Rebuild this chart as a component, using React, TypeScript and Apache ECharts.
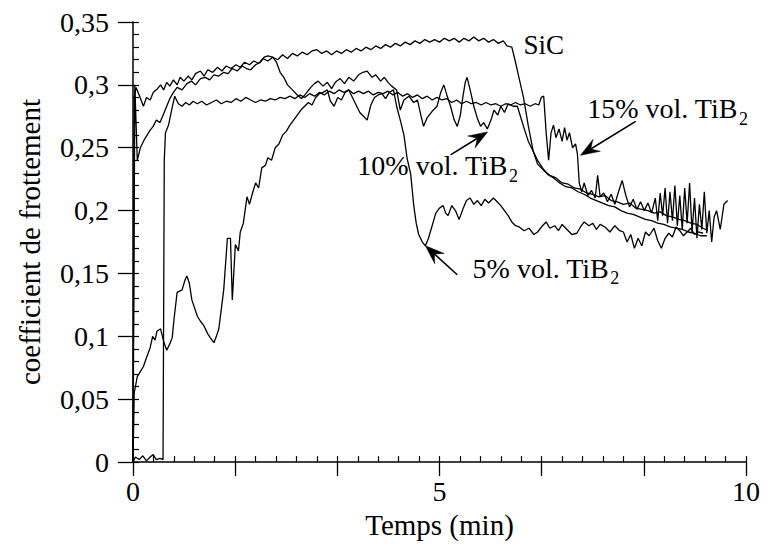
import React, { useEffect, useRef } from "react";
import * as echarts from "echarts";

// ---- data: time (min), friction coefficient ----
const sicCurve: number[][] = [
  [0, 0], [0.02, 0.29], [0.05, 0.298], [0.1, 0.292], [0.17, 0.283], [0.22, 0.29], [0.28, 0.288], [0.33, 0.294],
  [0.4, 0.297], [0.45, 0.3], [0.5, 0.296], [0.55, 0.302], [0.6, 0.299], [0.66, 0.304], [0.72, 0.3], [0.77, 0.306],
  [0.83, 0.303], [0.9, 0.307], [0.96, 0.304], [1.02, 0.309], [1.1, 0.311], [1.16, 0.307], [1.22, 0.312], [1.3, 0.31],
  [1.38, 0.314], [1.45, 0.311], [1.52, 0.315], [1.6, 0.313], [1.68, 0.316], [1.75, 0.314], [1.82, 0.318], [1.9, 0.316],
  [1.97, 0.319], [2.05, 0.317], [2.12, 0.321], [2.2, 0.319], [2.28, 0.322], [2.36, 0.32], [2.44, 0.324], [2.52, 0.321],
  [2.6, 0.325], [2.68, 0.323], [2.76, 0.326], [2.84, 0.324], [2.92, 0.327], [3.0, 0.328], [3.08, 0.325], [3.16, 0.327],
  [3.24, 0.324], [3.32, 0.327], [3.4, 0.325], [3.48, 0.328], [3.56, 0.326], [3.64, 0.329], [3.72, 0.327], [3.8, 0.33],
  [3.88, 0.328], [3.96, 0.331], [4.04, 0.329], [4.12, 0.332], [4.2, 0.33], [4.28, 0.333], [4.36, 0.331], [4.44, 0.334],
  [4.52, 0.332], [4.6, 0.335], [4.68, 0.333], [4.76, 0.336], [4.84, 0.334], [4.92, 0.336], [5.0, 0.334], [5.08, 0.337],
  [5.16, 0.335], [5.24, 0.337], [5.32, 0.334], [5.4, 0.337], [5.48, 0.335], [5.56, 0.338], [5.64, 0.335], [5.72, 0.337],
  [5.8, 0.334], [5.88, 0.336], [5.96, 0.333], [6.04, 0.335], [6.1, 0.331], [6.18, 0.33], [6.24, 0.318], [6.3, 0.305],
  [6.37, 0.29], [6.45, 0.267], [6.53, 0.247], [6.6, 0.237], [6.7, 0.232], [6.8, 0.228], [6.9, 0.226], [7.0, 0.222],
  [7.1, 0.221], [7.2, 0.218], [7.3, 0.217], [7.4, 0.214], [7.5, 0.213], [7.6, 0.211], [7.7, 0.212], [7.8, 0.208],
  [7.9, 0.207], [8.0, 0.205], [8.1, 0.206], [8.2, 0.202], [8.3, 0.201], [8.4, 0.2], [8.5, 0.198], [8.6, 0.199],
  [8.7, 0.196], [8.8, 0.195], [8.9, 0.193], [9.0, 0.192], [9.1, 0.19], [9.2, 0.189], [9.3, 0.186], [9.38, 0.184],
];

const tib10Curve: number[][] = [
  [0, 0], [0.03, 0.3], [0.07, 0.24], [0.12, 0.25], [0.18, 0.256], [0.23, 0.26], [0.28, 0.264], [0.33, 0.267],
  [0.38, 0.272], [0.44, 0.27], [0.5, 0.277], [0.55, 0.283], [0.6, 0.289], [0.66, 0.294], [0.72, 0.298], [0.8, 0.296],
  [0.88, 0.301], [0.95, 0.303], [1.02, 0.3], [1.1, 0.305], [1.18, 0.306], [1.25, 0.304], [1.32, 0.308], [1.4, 0.307],
  [1.48, 0.31], [1.55, 0.309], [1.62, 0.313], [1.7, 0.311], [1.78, 0.315], [1.85, 0.313], [1.92, 0.312], [2.0, 0.316],
  [2.08, 0.318], [2.14, 0.322], [2.2, 0.323], [2.28, 0.322], [2.34, 0.318], [2.4, 0.31], [2.46, 0.306], [2.52, 0.3],
  [2.6, 0.296], [2.68, 0.292], [2.75, 0.289], [2.82, 0.293], [2.9, 0.298], [2.96, 0.301], [3.02, 0.303], [3.1, 0.299],
  [3.17, 0.302], [3.24, 0.297], [3.3, 0.302], [3.38, 0.305], [3.45, 0.301], [3.52, 0.306], [3.6, 0.303], [3.68, 0.308],
  [3.75, 0.31], [3.82, 0.311], [3.9, 0.306], [3.96, 0.308], [4.04, 0.303], [4.1, 0.306], [4.16, 0.302], [4.22, 0.299],
  [4.3, 0.296], [4.36, 0.28], [4.42, 0.288], [4.5, 0.291], [4.58, 0.286], [4.64, 0.288], [4.7, 0.275], [4.74, 0.267],
  [4.8, 0.274], [4.88, 0.279], [4.96, 0.283], [5.02, 0.294], [5.07, 0.3], [5.12, 0.292], [5.18, 0.283], [5.24, 0.272],
  [5.29, 0.267], [5.34, 0.276], [5.38, 0.29], [5.42, 0.302], [5.45, 0.306], [5.5, 0.296], [5.56, 0.283], [5.62, 0.273],
  [5.67, 0.267], [5.72, 0.27], [5.78, 0.265], [5.84, 0.272], [5.89, 0.28], [5.95, 0.276], [6.0, 0.283], [6.06, 0.278],
  [6.12, 0.285], [6.2, 0.283], [6.27, 0.283], [6.32, 0.275], [6.37, 0.267], [6.45, 0.255], [6.53, 0.247], [6.6, 0.24],
  [6.68, 0.234], [6.76, 0.229], [6.86, 0.226], [6.96, 0.222], [7.06, 0.219], [7.16, 0.218], [7.26, 0.215], [7.36, 0.213],
  [7.46, 0.21], [7.56, 0.208], [7.66, 0.206], [7.76, 0.204], [7.86, 0.203], [7.96, 0.2], [8.06, 0.198], [8.16, 0.197],
  [8.26, 0.195], [8.36, 0.193], [8.46, 0.192], [8.56, 0.19], [8.66, 0.189], [8.76, 0.187], [8.86, 0.186], [8.96, 0.185],
  [9.06, 0.183], [9.16, 0.182], [9.26, 0.18], [9.36, 0.18],
];

const tib15Curve: number[][] = [
  [0, 0], [0.04, 0.004], [0.1, 0.002], [0.16, 0.005], [0.22, 0.001], [0.28, 0.004], [0.33, 0.006], [0.38, 0.002],
  [0.44, 0.003], [0.49, 0.002], [0.5, 0.12], [0.51, 0.24], [0.53, 0.262], [0.58, 0.268], [0.63, 0.28], [0.68, 0.291],
  [0.74, 0.285], [0.8, 0.283], [0.86, 0.286], [0.92, 0.284], [0.98, 0.287], [1.05, 0.285], [1.12, 0.287], [1.2, 0.284],
  [1.28, 0.286], [1.36, 0.288], [1.44, 0.285], [1.52, 0.287], [1.6, 0.286], [1.68, 0.289], [1.76, 0.287], [1.84, 0.29],
  [1.92, 0.288], [2.0, 0.286], [2.08, 0.288], [2.16, 0.287], [2.24, 0.289], [2.32, 0.288], [2.4, 0.29], [2.48, 0.289],
  [2.56, 0.291], [2.64, 0.289], [2.72, 0.292], [2.8, 0.29], [2.88, 0.293], [2.96, 0.291], [3.04, 0.294], [3.12, 0.292],
  [3.2, 0.295], [3.28, 0.293], [3.36, 0.296], [3.44, 0.294], [3.52, 0.296], [3.6, 0.293], [3.68, 0.295], [3.76, 0.293],
  [3.84, 0.295], [3.92, 0.292], [4.0, 0.294], [4.08, 0.293], [4.16, 0.295], [4.24, 0.292], [4.32, 0.294], [4.4, 0.291],
  [4.48, 0.293], [4.56, 0.29], [4.64, 0.292], [4.72, 0.289], [4.8, 0.291], [4.88, 0.288], [4.96, 0.29], [5.04, 0.288],
  [5.12, 0.289], [5.2, 0.286], [5.28, 0.288], [5.36, 0.285], [5.44, 0.287], [5.52, 0.285], [5.6, 0.286], [5.68, 0.284],
  [5.76, 0.286], [5.84, 0.284], [5.92, 0.285], [6.0, 0.283], [6.08, 0.285], [6.16, 0.284], [6.24, 0.286], [6.32, 0.284],
  [6.4, 0.285], [6.48, 0.283], [6.56, 0.285], [6.62, 0.284], [6.66, 0.29], [6.7, 0.291], [6.74, 0.262], [6.78, 0.24],
  [6.82, 0.262], [6.86, 0.268], [6.9, 0.258], [6.95, 0.265], [7.0, 0.255], [7.04, 0.266], [7.08, 0.256], [7.12, 0.262],
  [7.17, 0.25], [7.22, 0.253], [7.25, 0.245], [7.28, 0.222], [7.32, 0.215], [7.36, 0.222], [7.42, 0.212], [7.48, 0.216],
  [7.54, 0.21], [7.58, 0.228], [7.62, 0.211], [7.68, 0.214], [7.74, 0.207], [7.8, 0.213], [7.86, 0.205], [7.92, 0.215],
  [7.98, 0.224], [8.04, 0.212], [8.1, 0.203], [8.16, 0.209], [8.22, 0.201], [8.28, 0.207], [8.34, 0.2], [8.4, 0.206],
  [8.46, 0.198], [8.52, 0.21], [8.56, 0.192], [8.6, 0.214], [8.64, 0.196], [8.68, 0.218], [8.72, 0.19], [8.76, 0.215],
  [8.8, 0.192], [8.84, 0.22], [8.88, 0.188], [8.92, 0.212], [8.96, 0.185], [9.0, 0.218], [9.04, 0.19], [9.08, 0.222],
  [9.12, 0.183], [9.16, 0.21], [9.2, 0.178], [9.24, 0.205], [9.28, 0.185], [9.32, 0.215], [9.36, 0.182], [9.4, 0.2],
  [9.44, 0.175], [9.48, 0.195], [9.52, 0.2], [9.58, 0.185], [9.64, 0.205], [9.7, 0.208],
];

const tib5Curve: number[][] = [
  [0, 0], [0.02, 0.055], [0.07, 0.068], [0.12, 0.072], [0.17, 0.076], [0.22, 0.083], [0.28, 0.091], [0.32, 0.1],
  [0.36, 0.097], [0.39, 0.104], [0.45, 0.106], [0.5, 0.096], [0.55, 0.089], [0.6, 0.094], [0.64, 0.099], [0.67, 0.114],
  [0.72, 0.135], [0.8, 0.137], [0.85, 0.145], [0.88, 0.148], [0.92, 0.142], [0.96, 0.129], [1.05, 0.116], [1.1, 0.112],
  [1.15, 0.109], [1.22, 0.102], [1.26, 0.099], [1.32, 0.095], [1.36, 0.1], [1.4, 0.106], [1.48, 0.137], [1.54, 0.178],
  [1.59, 0.178], [1.62, 0.129], [1.67, 0.173], [1.72, 0.168], [1.75, 0.183], [1.8, 0.19], [1.86, 0.211], [1.9, 0.205],
  [1.95, 0.214], [2.0, 0.222], [2.05, 0.218], [2.1, 0.234], [2.16, 0.236], [2.2, 0.242], [2.26, 0.24], [2.32, 0.25],
  [2.38, 0.253], [2.44, 0.26], [2.5, 0.263], [2.56, 0.268], [2.62, 0.272], [2.68, 0.276], [2.74, 0.28], [2.8, 0.283],
  [2.86, 0.286], [2.92, 0.284], [2.98, 0.29], [3.04, 0.293], [3.1, 0.294], [3.17, 0.296], [3.22, 0.287], [3.28, 0.283],
  [3.34, 0.29], [3.4, 0.288], [3.46, 0.294], [3.52, 0.296], [3.58, 0.29], [3.64, 0.284], [3.7, 0.278], [3.76, 0.275],
  [3.82, 0.272], [3.88, 0.284], [3.94, 0.29], [4.0, 0.292], [4.06, 0.293], [4.12, 0.289], [4.18, 0.294], [4.25, 0.296],
  [4.3, 0.283], [4.36, 0.272], [4.42, 0.26], [4.47, 0.242], [4.53, 0.229], [4.58, 0.204], [4.62, 0.19], [4.66, 0.181],
  [4.72, 0.175], [4.77, 0.172], [4.82, 0.178], [4.88, 0.188], [4.94, 0.198], [5.0, 0.202], [5.06, 0.204], [5.1, 0.198],
  [5.14, 0.196], [5.2, 0.204], [5.26, 0.2], [5.32, 0.193], [5.38, 0.201], [5.44, 0.208], [5.5, 0.21], [5.56, 0.205],
  [5.62, 0.208], [5.68, 0.204], [5.74, 0.209], [5.8, 0.206], [5.88, 0.21], [5.94, 0.207], [6.0, 0.204], [6.06, 0.2],
  [6.12, 0.196], [6.18, 0.191], [6.24, 0.188], [6.3, 0.187], [6.38, 0.184], [6.46, 0.186], [6.54, 0.181], [6.6, 0.183],
  [6.68, 0.188], [6.74, 0.191], [6.8, 0.186], [6.88, 0.188], [6.94, 0.184], [7.0, 0.189], [7.08, 0.185], [7.16, 0.181],
  [7.24, 0.182], [7.3, 0.187], [7.36, 0.191], [7.44, 0.188], [7.5, 0.19], [7.56, 0.185], [7.62, 0.189], [7.7, 0.187],
  [7.78, 0.183], [7.86, 0.188], [7.94, 0.184], [8.0, 0.183], [8.06, 0.175], [8.12, 0.181], [8.18, 0.17], [8.24, 0.178],
  [8.3, 0.172], [8.36, 0.183], [8.42, 0.18], [8.5, 0.186], [8.56, 0.176], [8.62, 0.17], [8.68, 0.178], [8.74, 0.182],
  [8.8, 0.179], [8.86, 0.187], [8.92, 0.184], [8.98, 0.18], [9.04, 0.183], [9.1, 0.186], [9.16, 0.181], [9.22, 0.183],
  [9.3, 0.182],
];

const xLabelValues = [0, 5, 10];
const xAxisName = "Temps (min)";
const yAxisName = "coefficient de frottement";

// annotation labels: [main text, subscript]
const labelSiC = ["SiC", ""];
const label10 = ["10% vol. TiB", "2"];
const label15 = ["15% vol. TiB", "2"];
const label5 = ["5% vol. TiB", "2"];

const FONT = "Liberation Serif";
const TICK_FS = 28;
const NAME_FS = 29;
const ANN_FS = 28;
const SUB_FS = 18;

function fmtY(v: number): string {
  const r = Math.round(v * 100) / 100;
  if (r === 0) return "0";
  return String(r).replace(".", ",");
}

export default function App() {
  const ref = useRef<HTMLDivElement>(null);

  useEffect(() => {
    if (!ref.current) return;
    const chart = echarts.init(ref.current, null, { renderer: "svg" });
    const black = "#000";
    const lineSeries = (name: string, data: number[][]) => ({
      name,
      type: "line",
      xAxisIndex: 0,
      yAxisIndex: 0,
      data,
      showSymbol: false,
      symbol: "none",
      lineStyle: { color: black, width: 1.3 },
      z: 3,
    });

    chart.setOption({
      animation: false,
      backgroundColor: "#fff",
      textStyle: { fontFamily: FONT },
      grid: { left: 133, right: 21, top: 22, bottom: 65, containLabel: false },
      xAxis: [
        {
          type: "value",
          min: 0,
          max: 10,
          interval: 5 / 3,
          position: "bottom",
          axisLine: { show: true, onZero: false, lineStyle: { color: black, width: 1.5 } },
          axisTick: { show: true, inside: false, length: 14, lineStyle: { color: black, width: 1.3 } },
          axisLabel: {
            show: true,
            margin: 15,
            color: black,
            fontFamily: FONT,
            fontSize: TICK_FS,
            formatter: (v: number) => {
              const r = Math.round(v * 1000) / 1000;
              return xLabelValues.indexOf(r) >= 0 ? String(r) : "";
            },
          },
          splitLine: { show: false },
          name: xAxisName,
          nameLocation: "middle",
          nameGap: 34,
          nameTextStyle: { color: black, fontFamily: FONT, fontSize: NAME_FS },
        },
        {
          type: "value",
          min: 0,
          max: 10,
          interval: 1 / 3,
          position: "bottom",
          axisLine: { show: false, onZero: false },
          axisTick: { show: true, inside: true, length: 6, lineStyle: { color: black, width: 1.2 } },
          axisLabel: { show: false },
          splitLine: { show: false },
        },
      ],
      yAxis: [
        {
          type: "value",
          min: 0,
          max: 0.35,
          interval: 0.05,
          position: "left",
          axisLine: { show: true, onZero: false, lineStyle: { color: black, width: 1.5 } },
          axisTick: { show: true, inside: false, length: 15, lineStyle: { color: black, width: 1.3 } },
          axisLabel: {
            show: true,
            margin: 24,
            color: black,
            fontFamily: FONT,
            fontSize: TICK_FS,
            formatter: (v: number) => fmtY(v),
          },
          splitLine: { show: false },
          name: yAxisName,
          nameLocation: "middle",
          nameGap: 89,
          nameTextStyle: { color: black, fontFamily: FONT, fontSize: NAME_FS },
        },
        {
          type: "value",
          min: 0,
          max: 0.35,
          interval: 0.01,
          position: "left",
          axisLine: { show: false, onZero: false },
          axisTick: { show: true, inside: true, length: 6, lineStyle: { color: black, width: 1.2 } },
          axisLabel: { show: false },
          splitLine: { show: false },
        },
      ],
      series: [
        lineSeries("SiC", sicCurve),
        lineSeries("10% vol. TiB2", tib10Curve),
        lineSeries("15% vol. TiB2", tib15Curve),
        lineSeries("5% vol. TiB2", tib5Curve),
      ],
    });

    const toPx = (t: number, m: number): number[] =>
      chart.convertToPixel({ seriesIndex: 0 }, [t, m]) as number[];

    const canvas = document.createElement("canvas");
    const ctx = canvas.getContext("2d")!;
    const measure = (s: string, size: number) => {
      ctx.font = `${size}px ${FONT}`;
      return ctx.measureText(s).width;
    };

    const graphics: any[] = [];
    const addLabel = (lab: string[], t: number, m: number, fs: number) => {
      const [x, y] = toPx(t, m);
      graphics.push({
        type: "text",
        x,
        y,
        z: 10,
        style: {
          text: lab[0],
          fill: black,
          fontFamily: FONT,
          fontSize: fs,
          align: "left",
          verticalAlign: "middle",
        },
      });
      if (lab[1]) {
        const w = measure(lab[0], fs);
        graphics.push({
          type: "text",
          x: x + w + 1,
          y: y + 10,
          z: 10,
          style: {
            text: lab[1],
            fill: black,
            fontFamily: FONT,
            fontSize: SUB_FS,
            align: "left",
            verticalAlign: "middle",
          },
        });
      }
    };
    const addArrow = (t0: number, m0: number, t1: number, m1: number) => {
      const [x0, y0] = toPx(t0, m0);
      const [x1, y1] = toPx(t1, m1);
      const dx = x1 - x0;
      const dy = y1 - y0;
      const len = Math.sqrt(dx * dx + dy * dy);
      const ux = dx / len;
      const uy = dy / len;
      const nx = -uy;
      const ny = ux;
      const L = 19;
      const W = 7;
      const notch = 12;
      const bx = x1 - ux * L;
      const by = y1 - uy * L;
      const ix = x1 - ux * notch;
      const iy = y1 - uy * notch;
      graphics.push({
        type: "line",
        z: 10,
        shape: { x1: x0, y1: y0, x2: ix, y2: iy },
        style: { stroke: black, lineWidth: 1.6 },
      });
      graphics.push({
        type: "polygon",
        z: 10,
        shape: {
          points: [
            [x1, y1],
            [bx + nx * W, by + ny * W],
            [ix, iy],
            [bx - nx * W, by - ny * W],
          ],
        },
        style: { fill: black, stroke: black, lineWidth: 0.5 },
      });
    };

    addLabel(labelSiC, 6.37, 0.3315, 27);
    addLabel(label10, 3.66, 0.2358, ANN_FS);
    addLabel(label15, 7.41, 0.281, ANN_FS);
    addLabel(label5, 5.54, 0.154, ANN_FS);
    addArrow(5.18, 0.2443, 5.785, 0.2626);
    addArrow(8.2, 0.271, 7.3, 0.244);
    addArrow(5.29, 0.149, 4.77, 0.172);

    chart.setOption({ graphic: graphics });

    return () => chart.dispose();
  }, []);

  return (
    <div
      ref={ref}
      style={{ position: "absolute", left: 0, top: 0, width: 767, height: 544, background: "#fff" }}
    />
  );
}
